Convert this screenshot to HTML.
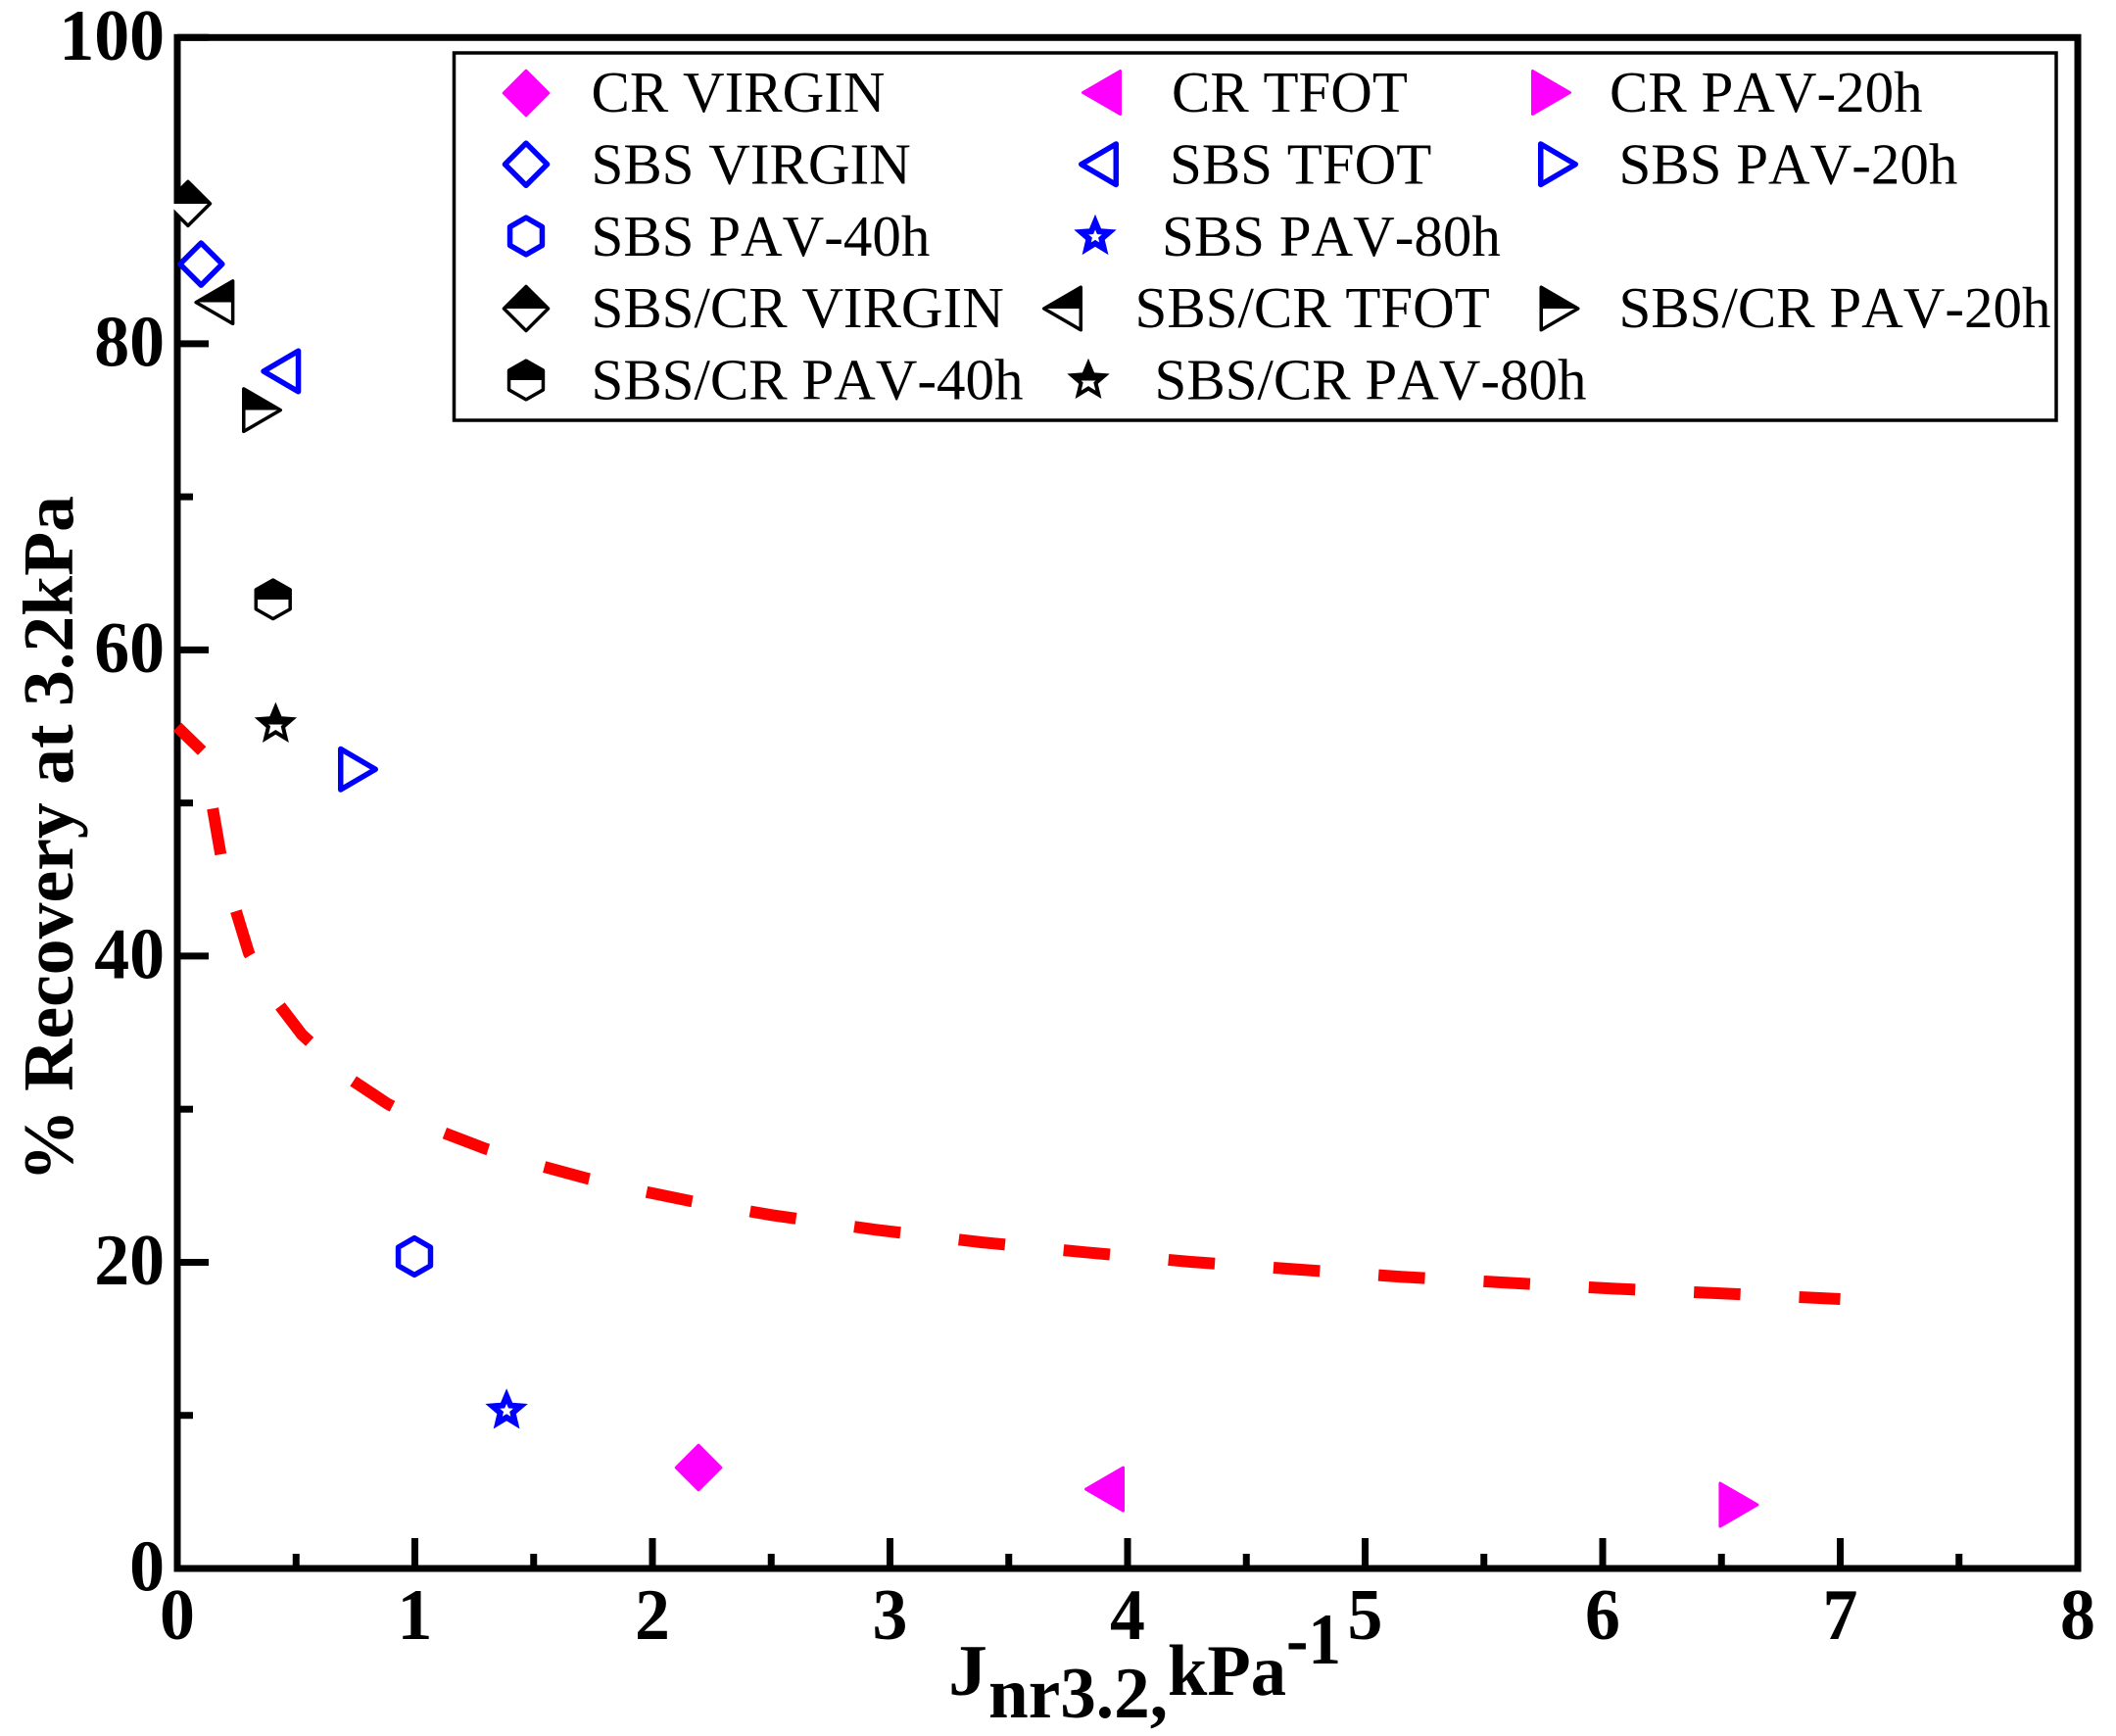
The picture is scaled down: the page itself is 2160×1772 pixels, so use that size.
<!DOCTYPE html>
<html lang="en">
<head>
<meta charset="utf-8">
<title>Recovery vs Jnr chart</title>
<style>
  html, body { margin: 0; padding: 0; background: #fff; }
  svg { display: block; }
  text { font-family: "Liberation Serif", serif; font-kerning: none; fill: #000; }
  .bold { font-weight: bold; font-size: 74px; }
  .leg { font-size: 59px; }
</style>
</head>
<body>
<svg id="chart" xmlns="http://www.w3.org/2000/svg" width="2160" height="1772" viewBox="0 0 2160 1772">
  <defs>
    <linearGradient id="half-fill" gradientUnits="userSpaceOnUse" x1="0" y1="-30" x2="0" y2="30">
      <stop offset="50%" stop-color="#000"/>
      <stop offset="50%" stop-color="#fff"/>
    </linearGradient>
    <clipPath id="plot-clip">
      <rect x="177.5" y="35" width="1947" height="1570"/>
    </clipPath>
  </defs>
  <rect x="0" y="0" width="2160" height="1772" fill="#fff"/>
  <g id="ticks"></g>
  <rect x="181" y="38.3" width="1940" height="1562.7" fill="none" stroke="#000" stroke-width="7"/>
  <g id="tick-labels"></g>
  <text class="bold" style="font-size:73px" transform="translate(74,1206) rotate(-90)" textLength="700" lengthAdjust="spacingAndGlyphs">% Recovery at 3.2kPa</text>
  <g>
    <text class="bold" x="968" y="1730" textLength="40" lengthAdjust="spacingAndGlyphs">J</text>
    <text class="bold" x="1009" y="1753" textLength="183" lengthAdjust="spacingAndGlyphs">nr3.2,</text>
    <text class="bold" x="1192" y="1730" textLength="121" lengthAdjust="spacingAndGlyphs">kPa</text>
    <text class="bold" x="1313" y="1698" textLength="56" lengthAdjust="spacingAndGlyphs">-1</text>
  </g>
  <g id="points" clip-path="url(#plot-clip)"></g>
  <path id="fit-curve" fill="none" stroke="#ff0000" stroke-width="12" stroke-dasharray="47.5 60" stroke-dashoffset="5.5"></path>

  <g>
    <rect x="463.5" y="54" width="1635.5" height="375" fill="#fff" stroke="#000" stroke-width="3.5"/>
    <g>
      <g class="legend-marker" data-series="CR VIRGIN" transform="translate(537,95)"></g>
      <text class="leg" x="603.5" y="114">CR VIRGIN</text>
    </g>
    <g>
      <g class="legend-marker" data-series="CR TFOT" transform="translate(1131,94.5)"></g>
      <text class="leg" x="1196" y="114">CR TFOT</text>
    </g>
    <g>
      <g class="legend-marker" data-series="CR PAV-20h" transform="translate(1577,94.5)"></g>
      <text class="leg" x="1643" y="114">CR PAV-20h</text>
    </g>
    <g>
      <g class="legend-marker" data-series="SBS VIRGIN" transform="translate(537,167.7)"></g>
      <text class="leg" x="603.5" y="187.5">SBS VIRGIN</text>
    </g>
    <g>
      <g class="legend-marker" data-series="SBS TFOT" transform="translate(1128,167.7)"></g>
      <text class="leg" x="1194" y="187.5">SBS TFOT</text>
    </g>
    <g>
      <g class="legend-marker" data-series="SBS PAV-20h" transform="translate(1584,167.7)"></g>
      <text class="leg" x="1652.5" y="187.5">SBS PAV-20h</text>
    </g>
    <g>
      <g class="legend-marker" data-series="SBS PAV-40h" transform="translate(537,241)"></g>
      <text class="leg" x="603.5" y="261">SBS PAV-40h</text>
    </g>
    <g>
      <g class="legend-marker" data-series="SBS PAV-80h" transform="translate(1118,241.6)"></g>
      <text class="leg" x="1186" y="261">SBS PAV-80h</text>
    </g>
    <g>
      <g class="legend-marker" data-series="SBS/CR VIRGIN" transform="translate(537,315)"></g>
      <text class="leg" x="603.5" y="334">SBS/CR VIRGIN</text>
    </g>
    <g>
      <g class="legend-marker" data-series="SBS/CR TFOT" transform="translate(1091,315)"></g>
      <text class="leg" x="1158.5" y="334">SBS/CR TFOT</text>
    </g>
    <g>
      <g class="legend-marker" data-series="SBS/CR PAV-20h" transform="translate(1585.5,315)"></g>
      <text class="leg" x="1652.5" y="334">SBS/CR PAV-20h</text>
    </g>
    <g>
      <g class="legend-marker" data-series="SBS/CR PAV-40h" transform="translate(537,388)"></g>
      <text class="leg" x="603.5" y="407.5">SBS/CR PAV-40h</text>
    </g>
    <g>
      <g class="legend-marker" data-series="SBS/CR PAV-80h" transform="translate(1111,388.6)"></g>
      <text class="leg" x="1178.5" y="407.5">SBS/CR PAV-80h</text>
    </g>
  </g>
</svg>
<script>
const seriesNames = ["CR VIRGIN", "CR TFOT", "CR PAV-20h", "SBS VIRGIN", "SBS TFOT", "SBS PAV-20h", "SBS PAV-40h", "SBS PAV-80h", "SBS/CR VIRGIN", "SBS/CR TFOT", "SBS/CR PAV-20h", "SBS/CR PAV-40h", "SBS/CR PAV-80h"];
const jnrValues = [2.194, 3.93, 6.546, 0.1, 0.463, 0.734, 0.998, 1.386, 0.045, 0.183, 0.33, 0.403, 0.414];
const recoveryValues = [6.59, 5.18, 4.16, 85.2, 78.2, 52.2, 20.38, 10.3, 89.15, 82.7, 75.66, 63.3, 55.13];

const curveJnr = [0, 0.106, 0.151, 0.183, 0.247, 0.301, 0.416, 0.524, 0.725, 0.885, 1.118, 1.299, 1.542, 1.727, 1.971, 2.161, 2.502, 2.942, 3.383, 3.825, 4.265, 4.707, 5.151, 5.593, 6.038, 6.48, 6.915, 7];
const curveRecovery = [54.97, 53.37, 49.47, 46.6, 42.94, 40.2, 37.08, 34.88, 32.0, 30.35, 28.48, 27.41, 26.24, 25.47, 24.6, 24.0, 23.08, 22.12, 21.31, 20.65, 20.03, 19.54, 19.05, 18.67, 18.28, 17.98, 17.66, 17.6];

const xMajorTicks = [0, 1, 2, 3, 4, 5, 6, 7, 8];
const xMinorTicks = [0.5, 1.5, 2.5, 3.5, 4.5, 5.5, 6.5, 7.5];
const yMajorTicks = [0, 20, 40, 60, 80, 100];
const yMinorTicks = [10, 30, 50, 70, 90];

const NS = 'http://www.w3.org/2000/svg';
function xScale(v) { return 181 + v * 242.5; }
function yScale(v) { return 1601 - v * 15.627; }
function make(tag) { return document.createElementNS(NS, tag); }

function tickLine(x1, y1, x2, y2) {
  const l = make('line');
  l.setAttribute('x1', x1);
  l.setAttribute('y1', y1);
  l.setAttribute('x2', x2);
  l.setAttribute('y2', y2);
  l.setAttribute('stroke', '#000');
  l.setAttribute('stroke-width', 7);
  return l;
}

const ticks = document.getElementById('ticks');
const tickLabels = document.getElementById('tick-labels');

xMajorTicks.forEach(function (t) {
  const l = tickLine(xScale(t), 1601, xScale(t), 1570);
  
  
  ticks.appendChild(l);
  const s = make('text');
  
  
  s.setAttribute('class', 'bold');
  s.setAttribute('text-anchor', 'middle');
  s.setAttribute('transform', 'translate(' + xScale(t) + ',1673) scale(0.97,1)');
  s.textContent = String(t);
  tickLabels.appendChild(s);
});
xMinorTicks.forEach(function (t) {
  const l = tickLine(xScale(t), 1601, xScale(t), 1586);
  
  
  ticks.appendChild(l);
});
yMajorTicks.forEach(function (t) {
  const l = tickLine(181, yScale(t), 213, yScale(t));
  
  
  ticks.appendChild(l);
  const s = make('text');
  
  
  s.setAttribute('class', 'bold');
  s.setAttribute('text-anchor', 'end');
  s.setAttribute('transform', 'translate(168,' + (yScale(t) + 22.5) + ') scale(0.97,1)');
  s.textContent = String(t);
  tickLabels.appendChild(s);
});
yMinorTicks.forEach(function (t) {
  const l = tickLine(181, yScale(t), 197, yScale(t));
  
  
  ticks.appendChild(l);
});

function shapePoints(stage, sw) {
  const a = sw / 2;
  let pts = [];
  if (stage === 'VIRGIN') {
    const h = 24.3 - a;
    pts = [[0, -h], [h, 0], [0, h], [-h, 0]];
  } else if (stage === 'TFOT') {
    const hh = 23.5 - a;
    pts = [[-27 + a, 0], [14 - a, -hh], [14 - a, hh]];
  } else if (stage === 'PAV-20h') {
    const hh = 23.5 - a;
    pts = [[27 - a, 0], [-14 + a, -hh], [-14 + a, hh]];
  } else if (stage === 'PAV-40h') {
    const hw = 19.2 - a, hh = 21.6 - a;
    pts = [[0, -hh], [hw, -hh / 2], [hw, hh / 2], [0, hh], [-hw, hh / 2], [-hw, -hh / 2]];
  } else {
    const R = 22.8 - 1.3 * sw;
    const r = R * 0.45;
    for (let i = 0; i < 10; i++) {
      const ang = -Math.PI / 2 + i * Math.PI / 5;
      const rad = i % 2 === 0 ? R : r;
      pts.push([rad * Math.cos(ang), rad * Math.sin(ang)]);
    }
  }
  return pts.map(function (p) { return p[0].toFixed(2) + ',' + p[1].toFixed(2); }).join(' ');
}

function drawMarker(parent, name) {
  const cut = name.lastIndexOf(' ');
  const group = name.slice(0, cut);
  const stage = name.slice(cut + 1);
  let stroke = '#ff00ff', fill = '#ff00ff', sw = 3;
  if (group === 'SBS') { stroke = '#0000ff'; fill = '#ffffff'; sw = 5.5; }
  if (group === 'SBS/CR') { stroke = '#000000'; fill = 'url(#half-fill)'; sw = 3.5; }
  if (stage === 'PAV-80h') { sw = group === 'SBS' ? 6 : 4; }
  const p = make('polygon');
  
  
  p.setAttribute('points', shapePoints(stage, sw));
  p.setAttribute('fill', fill);
  p.setAttribute('stroke', stroke);
  p.setAttribute('stroke-width', sw);
  if (stage === 'PAV-80h') {
    p.setAttribute('stroke-linejoin', 'miter');
    p.setAttribute('stroke-miterlimit', '10');
  } else {
    p.setAttribute('stroke-linejoin', 'round');
  }
  parent.appendChild(p);
}

const pointLayer = document.getElementById('points');
seriesNames.forEach(function (name, i) {
  const g = make('g');
  
  
  g.setAttribute('transform', 'translate(' + xScale(jnrValues[i]) + ',' + yScale(recoveryValues[i]) + ')');
  drawMarker(g, name);
  pointLayer.appendChild(g);
});

document.querySelectorAll('.legend-marker').forEach(function (g) {
  drawMarker(g, g.getAttribute('data-series'));
});

/* The curve is traced from its right end so the dash phase matches the long flat tail. */
let curvePath = '';
for (let i = curveJnr.length - 1; i >= 0; i--) {
  curvePath += (curvePath ? 'L' : 'M') + xScale(curveJnr[i]).toFixed(1) + ' ' + yScale(curveRecovery[i]).toFixed(1);
}
document.getElementById('fit-curve').setAttribute('d', curvePath);
</script>
</body>
</html>
